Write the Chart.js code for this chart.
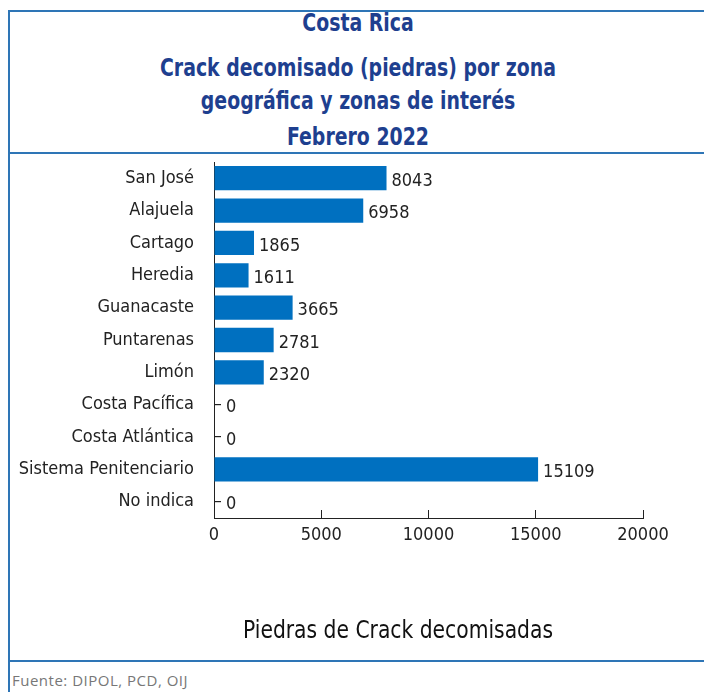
<!DOCTYPE html>
<html>
<head>
<meta charset="utf-8">
<script src="https://cdn.jsdelivr.net/npm/chart.js@4.4.1/dist/chart.umd.min.js"></script>
<style>
  body { margin: 0; background: #fff; width: 704px; height: 692px; overflow: hidden; position: relative; }
  .box { position: absolute; left: 8px; top: 10px; width: 700px; height: 648px; border: 2px solid #2e75b6; }
  .leftline { position: absolute; left: 8px; top: 660px; width: 2px; height: 40px; background: #2e75b6; }
  .t { position: absolute; left: 0; width: 696px; text-align: center; color: #1e3f8f; font-family: 'DejaVu Sans Condensed', sans-serif; font-weight: bold; font-size: 25px; line-height: 30px; transform: scaleX(0.84); }
  .sep { position: absolute; left: 0; top: 140px; width: 700px; height: 2px; background: #2e75b6; }
  #wrap { position: absolute; left: 1px; top: 143px; width: 693px; height: 505px; }
  .xtitle { position: absolute; left: 0; top: 604px; width: 776px; text-align: center; color: #111; font-family: 'DejaVu Sans Condensed', sans-serif; font-size: 24px; transform: scaleX(0.94); }
  .src { position: absolute; left: 12px; top: 670px; color: #777; font-family: 'Open Sans', sans-serif; font-size: 15px; letter-spacing: 0.5px; }
</style>
</head>
<body>
<div class="box">
  <div class="t" style="top:-4px">Costa Rica</div>
  <div class="t" style="top:41px">Crack decomisado (piedras) por zona</div>
  <div class="t" style="top:74px">geográfica y zonas de interés</div>
  <div class="t" style="top:110px">Febrero 2022</div>
  <div class="sep"></div>
  <div id="wrap"><canvas id="chart"></canvas></div>
  <div class="xtitle">Piedras de Crack decomisadas</div>
</div>
<div class="leftline"></div>
<div class="src">Fuente: DIPOL, PCD, OIJ</div>
<script>
const zonas = ['San José', 'Alajuela', 'Cartago', 'Heredia', 'Guanacaste', 'Puntarenas', 'Limón',
  'Costa Pacífica', 'Costa Atlántica', 'Sistema Penitenciario', 'No indica'];
const piedras = [8043, 6958, 1865, 1611, 3665, 2781, 2320, 0, 0, 15109, 0];
const ejeX = [0, 5000, 10000, 15000, 20000];

const FONT = "'DejaVu Sans Condensed', sans-serif";
const BLUE = '#0070c0';

// value labels at the end of each bar
const valueLabels = {
  id: 'valueLabels',
  afterDatasetsDraw(chart) {
    const ctx = chart.ctx;
    const meta = chart.getDatasetMeta(0);
    ctx.save();
    ctx.font = '18px ' + FONT;
    ctx.fillStyle = '#222';
    ctx.textAlign = 'left';
    ctx.textBaseline = 'middle';
    meta.data.forEach((bar, i) => {
      const gap = piedras[i] === 0 ? 12 : 5;
      ctx.fillText(String(piedras[i]), bar.x + gap, bar.y + 3);
    });
    ctx.restore();
  }
};

new Chart(document.getElementById('chart'), {
  type: 'bar',
  data: {
    labels: zonas,
    datasets: [{
      data: piedras,
      backgroundColor: BLUE,
      barPercentage: 0.75,
      categoryPercentage: 1
    }]
  },
  options: {
    indexAxis: 'y',
    responsive: true,
    maintainAspectRatio: false,
    animation: false,
    layout: { padding: { top: 7, right: 61, bottom: 0, left: 0 } },
    plugins: { legend: { display: false }, tooltip: { enabled: false } },
    scales: {
      x: {
        min: 0,
        max: 20000,
        afterBuildTicks(scale) { scale.ticks = ejeX.map(v => ({ value: v })); },
        afterFit(scale) { scale.height = 142; },
        grid: { drawOnChartArea: false, tickLength: -8, color: '#222' },
        border: { color: '#222', width: 1 },
        ticks: { color: '#222', padding: 15, font: { family: FONT, size: 18 }, callback: v => String(v) }
      },
      y: {
        afterFit(scale) {
          scale.width = 203;
          scale.paddingTop = 0;
          scale.paddingBottom = 0;
        },
        grid: { offset: false, drawOnChartArea: false, tickLength: -7, color: '#222', lineWidth: 1.2 },
        border: { color: '#222', width: 1 },
        ticks: { color: '#222', padding: 27, font: { family: FONT, size: 18 } }
      }
    }
  },
  plugins: [valueLabels]
});
</script>
</body>
</html>
